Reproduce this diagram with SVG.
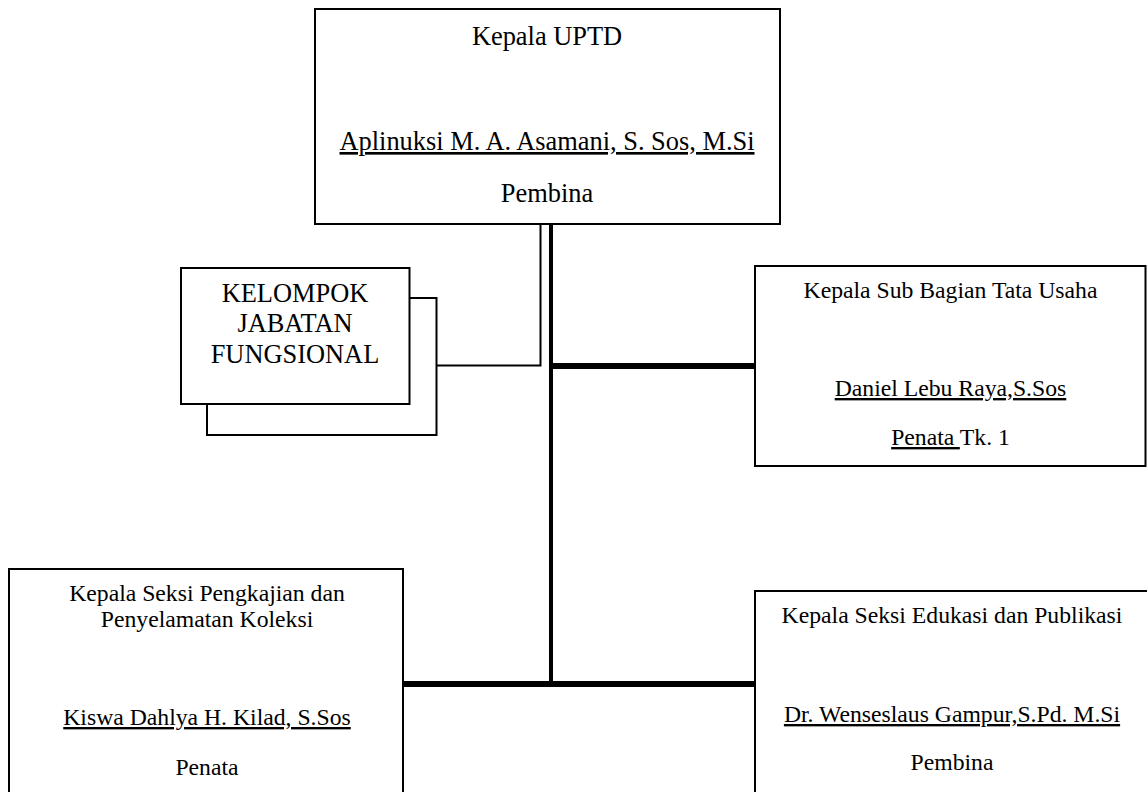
<svg xmlns="http://www.w3.org/2000/svg" width="1147" height="792" viewBox="0 0 1147 792">
<style>
.box{fill:#fff;stroke:#000;stroke-width:2}
.t{font-family:"Liberation Serif","Times New Roman",serif;fill:#000;text-anchor:middle}
.big{font-size:26.4px}
.sm{font-size:23.7px}
.u{text-decoration:underline}
.thin{fill:none;stroke:#000;stroke-width:2}
.thick{fill:none;stroke:#000;stroke-width:4}
.bar{fill:none;stroke:#000;stroke-width:6}
</style>
<rect width="1147" height="792" fill="#fff"/>
<g id="connectors">
<polyline class="thin" points="436,365.5 540.5,365.5 540.5,223"/>
<line class="thick" x1="551" y1="223" x2="551" y2="687"/>
<line class="bar" x1="551" y1="366" x2="755" y2="366"/>
<line class="bar" x1="403" y1="684" x2="755" y2="684"/>
</g>
<g id="kepala-uptd">
<rect class="box" x="315" y="9" width="465" height="215"/>
<text class="t big" x="547" y="45">Kepala UPTD</text>
<text class="t big u" x="547" y="150">Aplinuksi M. A. Asamani, S. Sos, M.Si</text>
<text class="t big" x="547" y="202">Pembina</text>
</g>
<g id="kelompok-jabatan-fungsional">
<rect class="box" x="207" y="298" width="229.5" height="137"/>
<rect class="box" x="181" y="268" width="228.5" height="136"/>
<text class="t big" x="295" y="302">KELOMPOK</text>
<text class="t big" x="295" y="332">JABATAN</text>
<text class="t big" x="295" y="363">FUNGSIONAL</text>
</g>
<g id="kasubag-tata-usaha">
<rect class="box" x="755" y="266" width="390.5" height="200"/>
<text class="t sm" x="950.5" y="298">Kepala Sub Bagian Tata Usaha</text>
<text class="t sm u" x="950.5" y="396">Daniel Lebu Raya,S.Sos</text>
<text class="t sm" x="950.5" y="445" xml:space="preserve"><tspan class="u">Penata </tspan>Tk. 1</text>
</g>
<g id="kasi-pengkajian">
<rect class="box" x="9" y="569" width="394" height="300"/>
<text class="t sm" x="207" y="601">Kepala Seksi Pengkajian dan</text>
<text class="t sm" x="207" y="627">Penyelamatan Koleksi</text>
<text class="t sm u" x="207" y="725">Kiswa Dahlya H. Kilad, S.Sos</text>
<text class="t sm" x="207" y="775">Penata</text>
</g>
<g id="kasi-edukasi">
<rect class="box" x="755" y="591" width="500" height="300"/>
<text class="t sm" x="952" y="623">Kepala Seksi Edukasi dan Publikasi</text>
<text class="t sm u" x="952" y="722">Dr. Wenseslaus Gampur,S.Pd. M.Si</text>
<text class="t sm" x="952" y="770">Pembina</text>
</g>
</svg>
